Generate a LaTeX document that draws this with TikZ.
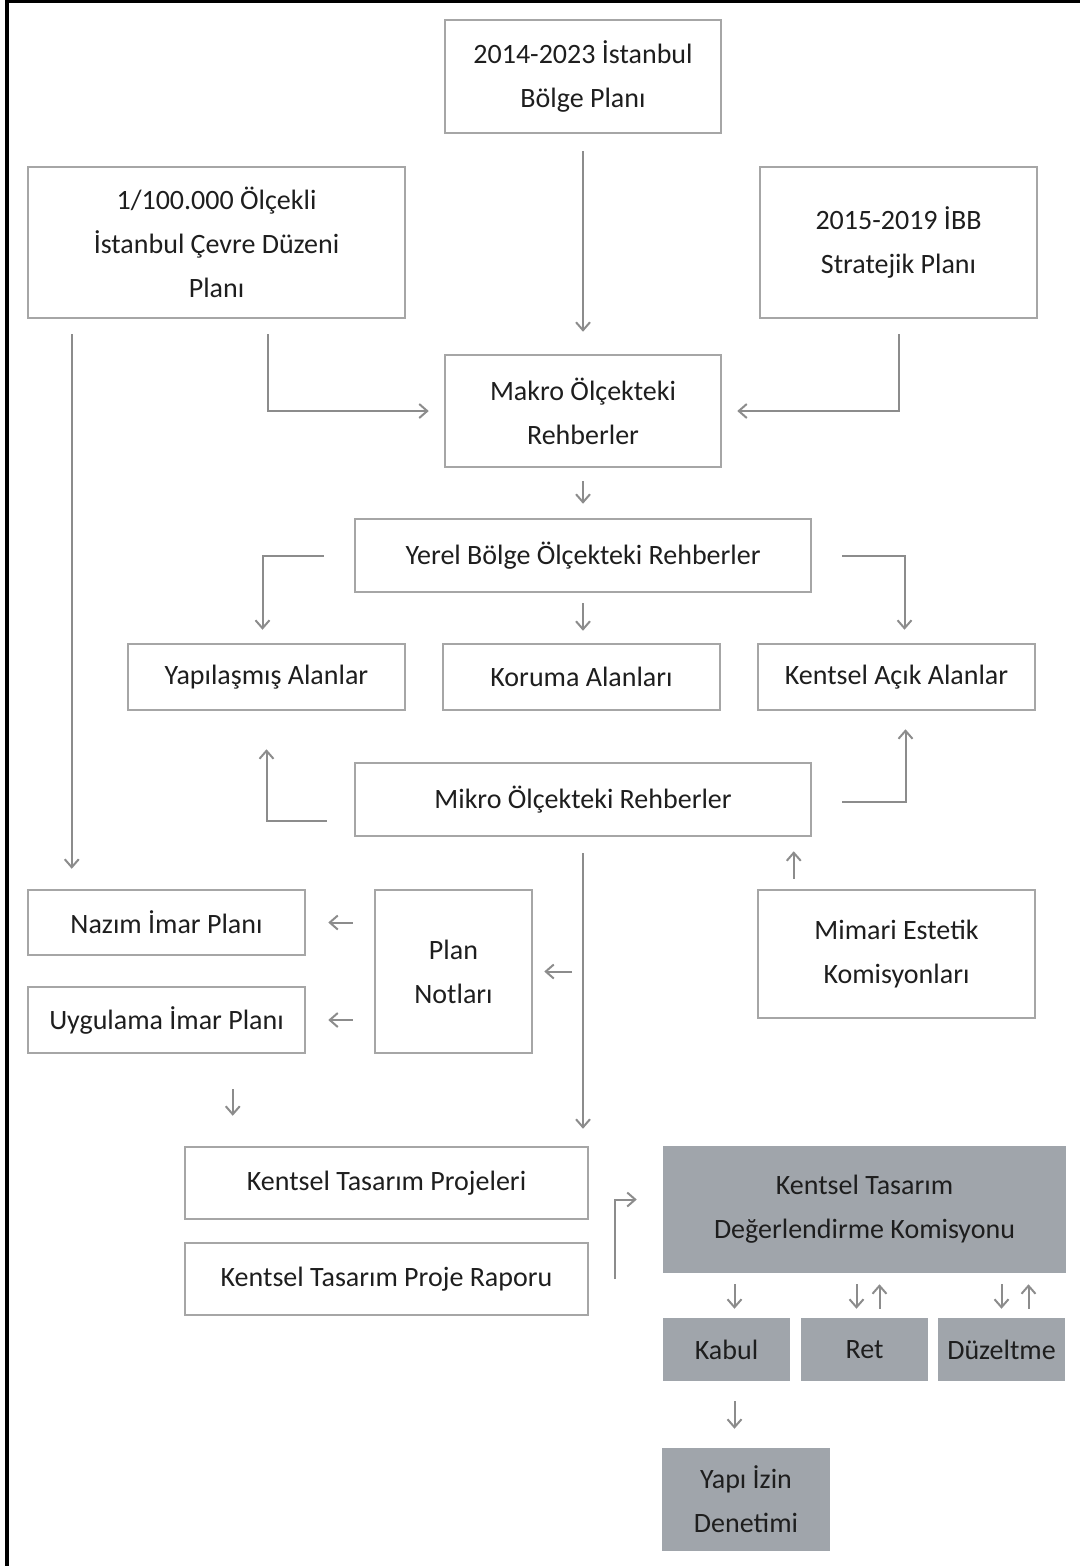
\documentclass[tikz,border=0pt]{standalone}
\usepackage{fontspec}
\setmainfont{Carlito}
\usetikzlibrary{arrows.meta}
\definecolor{boxline}{RGB}{166,166,166}
\definecolor{arrowline}{RGB}{140,140,140}
\definecolor{komfill}{RGB}{160,165,171}
\definecolor{textgray}{RGB}{30,30,30}
\tikzstyle{box}=[draw=boxline,line width=2.5pt,fill=white,inner sep=0pt,align=center,text=textgray,font=\fontsize{28}{44}\selectfont]
\tikzstyle{graybox}=[box,draw=none,fill=komfill]
\tikzstyle{arrow}=[draw=arrowline,line width=2pt,-{Straight Barb[length=8pt,width=14pt]}]

\begin{document}
\begin{tikzpicture}[x=1pt,y=-1pt]
    \useasboundingbox (0,0) rectangle (1080,1566);
    % frame on the left and on top
    \draw[line width=4pt] (7,1566) -- (7,1) -- (1080,1);
    % First we draw the plans and guides
    \node[box,minimum width=276pt,minimum height=113pt] (bolge) at (583,76.5) {2014-2023 İstanbul\\Bölge Planı};
    \node[box,minimum width=377pt,minimum height=151pt] (cevre) at (216.5,242.5) {1/100.000 Ölçekli\\İstanbul Çevre Düzeni\\Planı};
    \node[box,minimum width=277pt,minimum height=151pt] (ibb) at (898.5,242.5) {2015-2019 İBB\\Stratejik Planı};
    \node[box,minimum width=276pt,minimum height=112pt] (makro) at (583,411) {Makro Ölçekteki\\Rehberler};
    \node[box,minimum width=456pt,minimum height=73pt] (yerel) at (583,555.5) {Yerel Bölge Ölçekteki Rehberler};
    \node[box,minimum width=277pt,minimum height=66pt] (yapilasmis) at (266.5,677) {Yapılaşmış Alanlar};
    \node[box,minimum width=277pt,minimum height=66pt] (koruma) at (581.5,677) {Koruma Alanları};
    \node[box,minimum width=277pt,minimum height=66pt] (acik) at (896.5,677) {Kentsel Açık Alanlar};
    \node[box,minimum width=456pt,minimum height=73pt] (mikro) at (583,799.5) {Mikro Ölçekteki Rehberler};
    \node[box,minimum width=277pt,minimum height=65pt] (nazim) at (166.5,922.5) {Nazım İmar Planı};
    \node[box,minimum width=277pt,minimum height=66pt] (uygulama) at (166.5,1020) {Uygulama İmar Planı};
    \node[box,minimum width=157pt,minimum height=163pt] (notlar) at (453.5,971.5) {Plan\\Notları};
    \node[box,minimum width=277pt,minimum height=128pt] (mimari) at (896.5,954) {Mimari Estetik\\Komisyonları};
    \node[box,minimum width=403pt,minimum height=72pt] (ktp) at (386.5,1183) {Kentsel Tasarım Projeleri};
    \node[box,minimum width=403pt,minimum height=72pt] (ktpr) at (386.5,1279) {Kentsel Tasarım Proje Raporu};
    % the commission and its decisions
    \node[graybox,minimum width=403pt,minimum height=127pt] (ktdk) at (864.5,1209.5) {Kentsel Tasarım\\Değerlendirme Komisyonu};
    \node[graybox,minimum width=127pt,minimum height=63pt] (kabul) at (726.5,1349.5) {Kabul};
    \node[graybox,minimum width=127pt,minimum height=63pt] (ret) at (864.5,1349.5) {Ret};
    \node[graybox,minimum width=127pt,minimum height=63pt] (duzeltme) at (1001.5,1349.5) {Düzeltme};
    \node[graybox,minimum width=168pt,minimum height=103pt] (yapi) at (746,1499.5) {Yapı İzin\\Denetimi};
    % points for the short arrows
    \coordinate (mim) at ([xshift=37pt]mimari.north west);
    \coordinate (uyg) at ([xshift=49pt]ktp.north west);
    \coordinate (kab) at ([xshift=8pt]kabul.north);
    \coordinate (retd) at ([xshift=-8pt]ret.north);
    \coordinate (retu) at ([xshift=15pt]ret.north);
    \coordinate (duzd) at (duzeltme.north);
    \coordinate (duzu) at ([xshift=27pt]duzeltme.north);
    \coordinate (kab2) at ([xshift=8pt]kabul.south);
    % Then the arrows
    \draw[arrow,shorten <=17pt,shorten >=22pt] (bolge) -- (makro);
    \draw[arrow,shorten <=15pt,shorten >=15pt] ([xshift=51pt]cevre.south) |- (makro.west);
    \draw[arrow,shorten <=15pt,shorten >=15pt] (ibb.south) |- (makro.east);
    \draw[arrow,shorten <=15pt,shorten >=20pt] ([xshift=45pt]cevre.south west) -- ([xshift=45pt]nazim.north west);
    \draw[arrow,shorten <=13pt,shorten >=14pt] (makro) -- (yerel);
    \draw[arrow,shorten <=30pt,shorten >=13pt] (yerel.west) -| ([xshift=-4pt]yapilasmis.north);
    \draw[arrow,shorten <=10pt,shorten >=12pt] (yerel.south) -- (yerel.south |- koruma.north);
    \draw[arrow,shorten <=30pt,shorten >=13pt] (yerel.east) -| ([xshift=8pt]acik.north);
    \draw[arrow,shorten <=27pt,shorten >=38pt] ([yshift=-21pt]mikro.west) -| (yapilasmis.south);
    \draw[arrow,shorten <=30pt,shorten >=18pt] ([yshift=-2pt]mikro.east) -| ([xshift=9pt]acik.south);
    \draw[arrow,shorten <=10pt,shorten >=14pt] (mim) -- (mim |- mikro.south);
    \draw[arrow,shorten <=16pt,shorten >=17pt] (mikro.south) -- (mikro.south |- ktp.north);
    \draw[arrow,shorten <=11pt,shorten >=11pt] (mikro.south |- notlar.east) -- (notlar.east);
    \draw[arrow,shorten <=21pt,shorten >=22pt] (notlar.west |- nazim.east) -- (nazim.east);
    \draw[arrow,shorten <=21pt,shorten >=22pt] (notlar.west |- uygulama.east) -- (uygulama.east);
    \draw[arrow,shorten <=35pt,shorten >=30pt] (uyg |- uygulama.south) -- (uyg);
    \draw[arrow,shorten >=25pt] ([xshift=26pt]ktpr.east) |- ([yshift=10pt]ktdk.west);
    % down and up between commission and decisions
    \foreach \c in {kab,retd,duzd}
        \draw[arrow,shorten <=10pt,shorten >=8pt] (\c |- ktdk.south) -- (\c);
    \foreach \c in {retu,duzu}
        \draw[arrow,shorten <=8pt,shorten >=10pt] (\c) -- (\c |- ktdk.south);
    \draw[arrow,shorten <=19pt,shorten >=18pt] (kab2) -- (kab2 |- yapi.north);
\end{tikzpicture}
\end{document}
